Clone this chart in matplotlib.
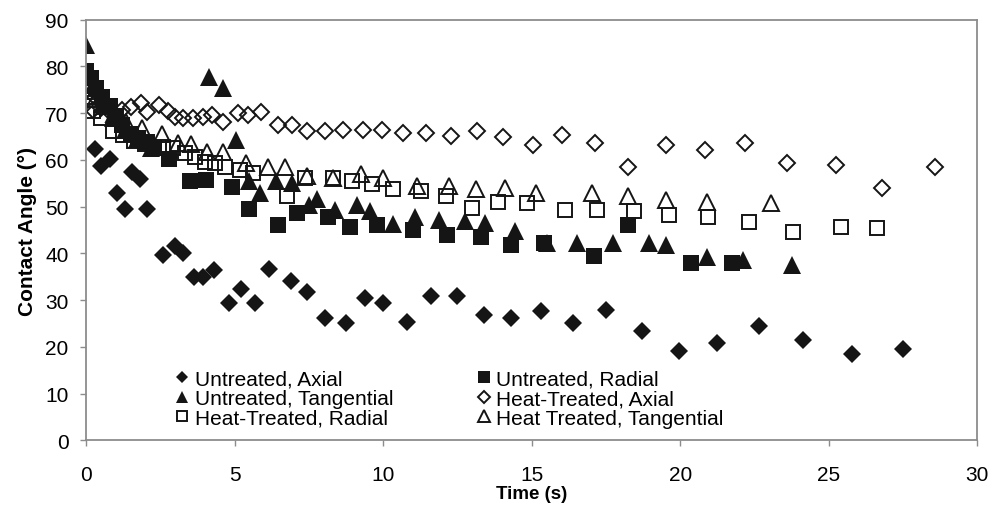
import matplotlib
matplotlib.use("Agg")
import matplotlib.pyplot as plt

plt.rcParams['font.family'] = ['Liberation Sans', 'DejaVu Sans']

# Untreated, Axial (filled diamonds)
ua_t = [0.1, 0.3, 0.5, 0.8, 1.05, 1.3, 1.55, 1.8, 2.05, 2.6, 3.0, 3.25, 3.65, 3.95, 4.3,
        4.8, 5.2, 5.7, 6.15, 6.9, 7.45, 8.05, 8.75, 9.4, 10.0, 10.8, 11.6, 12.5, 13.4,
        14.3, 15.3, 16.4, 17.5, 18.7, 19.95, 21.25, 22.65, 24.15, 25.8, 27.5]
ua_y = [77.5, 62.3, 58.7, 60.2, 52.9, 49.6, 57.4, 55.9, 49.6, 39.6, 41.6, 40.0, 35.0, 35.0, 36.4,
        29.4, 32.4, 29.4, 36.6, 34.2, 31.8, 26.2, 25.2, 30.4, 29.4, 25.4, 30.8, 31.0, 26.8,
        26.2, 27.6, 25.2, 27.9, 23.4, 19.2, 20.8, 24.4, 21.6, 18.6, 19.5]

# Untreated, Radial (filled squares)
ur_t = [0.0, 0.17, 0.35, 0.55, 0.8, 1.0, 1.2, 1.5, 1.75, 2.05, 2.3, 2.8, 3.5, 4.05, 4.9,
        5.5, 6.45, 7.1, 8.15, 8.9, 9.8, 11.0, 12.15, 13.3, 14.3, 15.4, 17.1, 18.25, 20.35, 21.75]
ur_y = [79.0, 77.5, 75.3, 73.5, 71.5, 69.5, 67.5, 65.5, 64.8, 63.8, 62.6, 60.3, 55.4, 55.8, 54.3,
        49.6, 46.2, 48.7, 47.7, 45.6, 46.2, 45.1, 44.0, 43.6, 41.9, 42.3, 39.5, 46.2, 38.0, 38.0]

# Untreated, Tangential (filled triangles)
ut_t = [0.0, 0.25, 0.55, 0.9, 1.3, 1.7, 2.2, 4.15, 4.6, 5.05, 5.5, 5.85, 6.4, 6.93, 7.5, 7.77,
        8.38, 9.12, 9.55, 10.33, 11.07, 11.87, 12.75, 13.42, 14.43, 15.51, 16.52, 17.73,
        18.94, 19.54, 20.89, 22.1, 23.78]
ut_y = [84.5, 76.0, 72.0, 69.0, 66.5, 64.5, 62.5, 77.8, 75.4, 64.3, 55.4, 53.0, 55.4, 55.1, 50.4, 51.7,
        49.4, 50.4, 49.0, 46.4, 47.9, 47.2, 47.0, 46.6, 44.9, 42.3, 42.3, 42.3,
        42.3, 41.9, 39.3, 38.7, 37.6]

# Heat-Treated, Axial (open diamonds)
ha_t = [0.0, 0.25, 0.5, 0.85, 1.2, 1.5, 1.85, 2.05, 2.45, 2.75, 3.0, 3.25, 3.6, 3.95, 4.25,
        4.6, 5.1, 5.45, 5.9, 6.46, 6.93, 7.43, 8.04, 8.64, 9.32, 9.96, 10.66, 11.44, 12.28,
        13.15, 14.03, 15.04, 16.01, 17.12, 18.26, 19.51, 20.82, 22.17, 23.61, 25.23, 26.81, 28.59]
ha_y = [72.0, 70.8, 71.2, 70.1, 70.8, 71.4, 72.2, 70.3, 71.8, 70.5, 69.3, 69.0, 69.0, 69.3, 69.7,
        68.2, 70.1, 69.7, 70.3, 67.5, 67.5, 66.1, 66.1, 66.5, 66.5, 66.5, 65.8, 65.8, 65.2,
        66.1, 65.0, 63.3, 65.4, 63.7, 58.6, 63.3, 62.2, 63.7, 59.4, 59.0, 54.1, 58.6]

# Heat-Treated, Radial (open squares)
hr_t = [0.0, 0.25, 0.5, 0.9, 1.25, 1.6, 2.0, 2.59, 2.93, 3.33, 3.67, 4.0, 4.34, 4.68, 5.18,
        5.62, 6.76, 7.37, 8.31, 8.95, 9.62, 10.33, 11.27, 12.11, 12.98, 13.86, 14.83, 16.11,
        17.19, 18.43, 19.64, 20.95, 22.33, 23.81, 25.43, 26.64]
hr_y = [74.6, 70.5, 69.0, 66.1, 65.4, 64.0, 63.5, 62.8, 62.6, 61.6, 60.7, 59.6, 59.4, 58.6, 57.9,
        57.3, 52.2, 56.2, 56.2, 55.4, 54.9, 53.7, 53.4, 52.2, 49.8, 51.1, 50.9, 49.4,
        49.4, 49.0, 48.3, 47.7, 46.8, 44.7, 45.7, 45.5]

# Heat Treated, Tangential (open triangles)
ht_t = [0.0, 0.3, 0.6, 0.95, 1.35, 1.9, 2.55, 3.1, 3.55, 4.07, 4.6, 5.4, 6.12, 6.69, 7.43,
        8.31, 9.25, 9.99, 11.13, 12.21, 13.12, 14.09, 15.14, 17.02, 18.26, 19.54, 20.89, 23.07]
ht_y = [75.5, 73.0, 71.5, 69.8, 68.2, 66.9, 65.6, 63.7, 63.5, 61.7, 61.7, 59.3, 58.4, 58.4, 56.6,
        56.2, 56.9, 56.2, 54.5, 54.5, 53.7, 54.1, 53.0, 53.0, 52.2, 51.5, 51.1, 50.9]

labels = ['Untreated, Axial', 'Untreated, Radial', 'Untreated, Tangential',
          'Heat-Treated, Axial', 'Heat-Treated, Radial', 'Heat Treated, Tangential']

ink = '#151515'
grey = '#8c8c8c'

fig = plt.figure(figsize=(10.04, 5.06), dpi=100)
ax = fig.add_axes([0.0857, 0.1275, 0.8876, 0.8315])

h1, = ax.plot(ua_t, ua_y, 'D', ms=9.2, color=ink, mew=0, label=labels[0])
h2, = ax.plot(ur_t, ur_y, 's', ms=11.5, color=ink, mew=0, label=labels[1])
h3, = ax.plot(ut_t, ut_y, '^', ms=13, color=ink, mew=0, label=labels[2])
h4, = ax.plot(ha_t, ha_y, 'D', ms=8.3, mfc='none', mec=ink, mew=1.4, label=labels[3])
h5, = ax.plot(hr_t, hr_y, 's', ms=10.5, mfc='none', mec=ink, mew=1.4, label=labels[4])
h6, = ax.plot(ht_t, ht_y, '^', ms=12, mfc='none', mec=ink, mew=1.4, label=labels[5])

ax.set_xlim(0, 30)
ax.set_ylim(0, 90)
ax.set_xticks(range(0, 31, 5))
ax.set_yticks(range(0, 91, 10))
for s in ax.spines.values():
    s.set_color(grey)
    s.set_linewidth(1.3)
ax.tick_params(axis='both', direction='out', length=4.5, width=1, color=grey,
               labelsize=15, labelcolor='black')
ax.tick_params(axis='x', pad=13)
ax.tick_params(axis='y', pad=8)

ax.set_xlabel('Time (s)', fontsize=13.5, fontweight='bold', labelpad=1)
ax.set_ylabel('Contact Angle (°)', fontsize=15, fontweight='bold', labelpad=6)

ax.legend(handles=[h1, h3, h5, h2, h4, h6], ncol=2, frameon=False,
          loc='upper left', bbox_to_anchor=(0.089, 0.193), fontsize=15,
          markerscale=0.7, handlelength=0.6, handletextpad=0.3,
          columnspacing=4.05, labelspacing=0.02, borderpad=0)

fig.savefig('out.png', dpi=100)
